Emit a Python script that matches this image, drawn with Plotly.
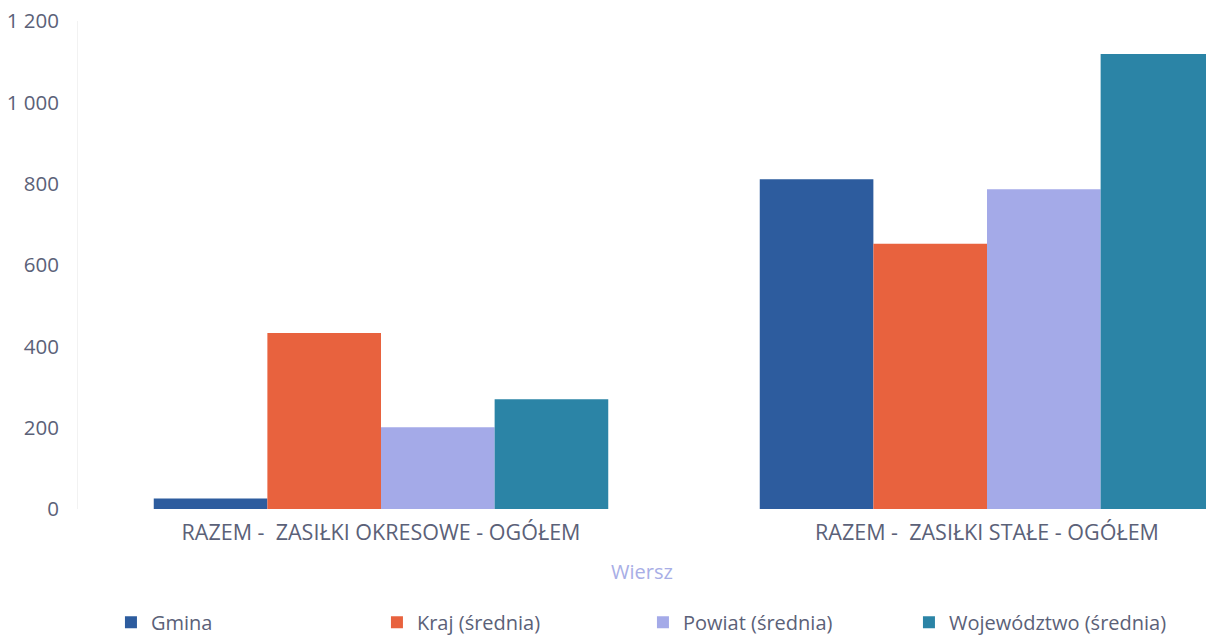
import plotly.graph_objects as go

categories = ["RAZEM - \u00a0ZASIŁKI OKRESOWE - OGÓŁEM", "RAZEM - \u00a0ZASIŁKI STAŁE - OGÓŁEM"]
series_names = ["Gmina", "Kraj (średnia)", "Powiat (średnia)", "Województwo (średnia)"]
gmina = [26, 811]
kraj = [433, 652]
powiat = [201, 786]
wojewodztwo = [270, 1119]
colors = ["#2d5c9e", "#e8623e", "#a4aae8", "#2b84a6"]
y_ticks = [0, 200, 400, 600, 800, 1000, 1200]

fig = go.Figure()
for name, vals, col in zip(series_names, [gmina, kraj, powiat, wojewodztwo], colors):
    fig.add_trace(go.Bar(x=categories, y=vals, name=name,
                         marker=dict(color=col, line=dict(width=0))))

W, H = 1206, 635
ml, mt, mb = 78, 21, 126
plot_w = W - ml
cat_px = 606
txt = "#5b6178"
fig.update_layout(
    width=W, height=H,
    margin=dict(l=ml, r=0, t=mt, b=mb),
    paper_bgcolor="white", plot_bgcolor="white",
    barmode="group", bargap=0.25, bargroupgap=0,
    separators=", ",
    font=dict(family="Open Sans, Noto Sans, sans-serif", size=20, color=txt),
    xaxis=dict(range=[-0.5, -0.5 + plot_w / cat_px], showgrid=False, zeroline=False,
               showline=False, ticks="", ticklabelstandoff=8,
               tickfont=dict(size=21.5, color=txt),
               title=dict(text="Wiersz", font=dict(size=20, color="#a8aee6"), standoff=20)),
    yaxis=dict(range=[0, 1200], tickvals=y_ticks, tickformat=",d", showgrid=False,
               zeroline=False, showline=True, linecolor="#f2f2f2", linewidth=1,
               ticks="", ticklabelstandoff=14, tickfont=dict(size=20.5, color=txt)),
    legend=dict(orientation="h", xref="container", yref="container",
                x=0.092, y=0.02, xanchor="left", yanchor="middle",
                entrywidth=221, entrywidthmode="pixels",
                font=dict(size=20, color=txt), bgcolor="rgba(0,0,0,0)"),
)
fig.write_html("out.html", config={"displayModeBar": False},
               post_script="document.body.style.margin='0px';document.body.style.overflow='hidden';")
